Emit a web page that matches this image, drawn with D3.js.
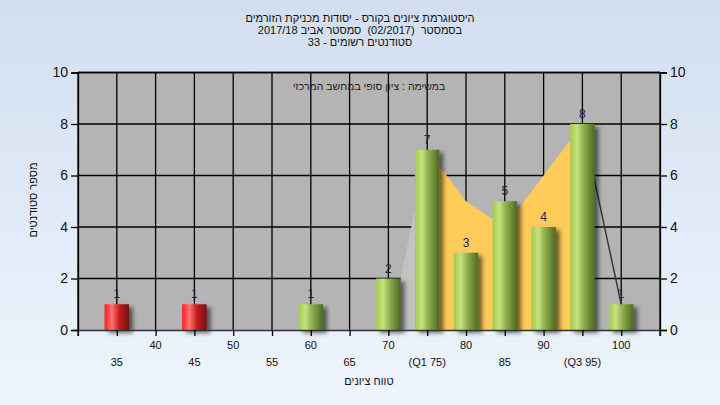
<!DOCTYPE html>
<html><head><meta charset="utf-8">
<script src="https://cdn.jsdelivr.net/npm/d3@7"></script>
<style>
html,body{margin:0;padding:0;}
svg{display:block;font-family:"Liberation Sans",Arial,sans-serif;}
text.pre{white-space:pre;}
</style></head>
<body>
<svg id="c" width="720" height="405"></svg>
<script>
// ---- data ----
const categories = [35,40,45,50,55,60,65,70,75,80,85,90,95,100];
const counts     = [1,0,1,0,0,1,0,2,7,3,5,4,8,1];
const tickLabels = ["35","40","45","50","55","60","65","70","(Q1 75)","80","85","90","(Q3 95)","100"];
const failing    = [35,40,45,50];           // red bars
const iqrCats    = [75,80,85,90,95];        // orange band
const iqrValues  = [7,5,4,6,8];
const lowCats    = [70,75];
const lowValues  = [2,7];
const tailCats   = [95,100];
const tailValues = [8,1];
const yTicks     = [0,2,4,6,8,10];
const titleLines = ["היסטוגרמת ציונים בקורס - יסודות מכניקת הזורמים",
                    "בסמסטר  (02/2017)  סמסטר אביב 2017/18",
                    "סטודנטים רשומים - 33"];
const note   = "במשימה : ציון סופי במחשב המרכזי";
const xTitle = "טווח ציונים";
const yTitle = "מספר סטודנטים";

const svg = d3.select("#c");
const W = 720, H = 405;
const L = 78, R = 660, T = 72.5, B = 330;

const defs = svg.append("defs");
const bg = defs.append("linearGradient").attr("id","bg").attr("x1",0).attr("y1",0).attr("x2",0).attr("y2",1);
bg.append("stop").attr("offset","0%").attr("stop-color","#d2def0");
bg.append("stop").attr("offset","100%").attr("stop-color","#eef5fd");
function barGrad(id, stops){
  const g = defs.append("linearGradient").attr("id",id).attr("x1",0).attr("y1",0).attr("x2",1).attr("y2",0);
  stops.forEach(s=>g.append("stop").attr("offset",s[0]).attr("stop-color",s[1]));
}
barGrad("gGreen",[["0%","#a2cb4a"],["28%","#c6e182"],["55%","#8fae4c"],["100%","#4e6a24"]]);
barGrad("gRed",[["0%","#ff1c1c"],["30%","#ff7373"],["60%","#c41e1e"],["100%","#741010"]]);
const f = defs.append("filter").attr("id","sh").attr("x","-30%").attr("y","-30%").attr("width","180%").attr("height","160%");
f.append("feDropShadow").attr("dx",4).attr("dy",3).attr("stdDeviation",2).attr("flood-color","#000").attr("flood-opacity",0.55);

svg.append("rect").attr("width",W).attr("height",H).attr("fill","url(#bg)");

const x = d3.scalePoint().domain(categories).range([L,R]).padding(1);
const y = d3.scaleLinear().domain([0,10]).range([B,T]);
const step = x.step();
const bw = step*0.63;

// plot background
svg.append("rect").attr("x",L).attr("y",T).attr("width",R-L).attr("height",B-T).attr("fill","#b4b4b4");

// grid
const grid = svg.append("g");
grid.selectAll("line.h").data(yTicks.slice(1)).join("line")
  .attr("x1",L).attr("x2",R).attr("y1",d=>y(d)).attr("y2",d=>y(d))
  .attr("stroke","#000").attr("stroke-width",1.3);
grid.selectAll("line.v").data(categories).join("line")
  .attr("x1",d=>x(d)).attr("x2",d=>x(d)).attr("y1",T).attr("y2",B)
  .attr("stroke","#000").attr("stroke-width",1.3);

// area series
svg.append("path").datum(lowCats.map((c,i)=>[c,lowValues[i]]))
  .attr("d", d3.area().x((d,i)=>x(d[0]) + (i===0? bw/2 : 0)).y0(y(0)).y1(d=>y(d[1])))
  .attr("fill","#c2c2c2");
svg.append("path").datum(iqrCats.map((c,i)=>[c,iqrValues[i]]))
  .attr("d", d3.area().x(d=>x(d[0])).y0(y(0)).y1(d=>y(d[1])))
  .attr("fill","#ffcc5a");
svg.append("path").datum(tailCats.map((c,i)=>[c,tailValues[i]]))
  .attr("d", d3.line().x(d=>x(d[0])).y(d=>y(d[1])))
  .attr("fill","none").attr("stroke","#3a3a3a").attr("stroke-width",1.5);

// bars
const bars = svg.append("g");
categories.forEach((c,i)=>{
  if(!counts[i]) return;
  bars.append("rect")
    .attr("x",x(c)-bw/2).attr("y",y(counts[i])).attr("width",bw).attr("height",y(0)-y(counts[i]))
    .attr("fill", failing.includes(c) ? "url(#gRed)" : "url(#gGreen)")
    .attr("filter","url(#sh)");
  bars.append("text").attr("x",x(c)).attr("y",y(counts[i])-6)
    .attr("text-anchor","middle").attr("font-size",12).attr("fill","#1b2540").text(counts[i]);
});

// border
svg.append("line").attr("x1",L).attr("x2",R).attr("y1",T).attr("y2",T).attr("stroke","#000").attr("stroke-width",1.3);
svg.append("line").attr("x1",L).attr("x2",L).attr("y1",T).attr("y2",B).attr("stroke","#000").attr("stroke-width",1.3);
svg.append("line").attr("x1",R).attr("x2",R).attr("y1",T).attr("y2",B).attr("stroke","#000").attr("stroke-width",1.3);

// axes
const yl = svg.append("g").attr("transform",`translate(${L},0)`)
  .call(d3.axisLeft(y).tickValues(yTicks).tickSize(7).tickPadding(3).tickFormat(d3.format("d")));
const yr = svg.append("g").attr("transform",`translate(${R},0)`)
  .call(d3.axisRight(y).tickValues(yTicks).tickSize(7).tickPadding(3).tickFormat(d3.format("d")));
[yl,yr].forEach(g=>{
  g.select(".domain").attr("stroke","#000").attr("stroke-width",1.3);
  g.selectAll(".tick line").attr("stroke","#000").attr("stroke-width",1.3);
  g.selectAll(".tick text").attr("font-size",14).attr("fill","#111").attr("font-family","Liberation Sans, Arial, sans-serif");
});
const xa = svg.append("g").attr("transform",`translate(0,${B})`)
  .call(d3.axisBottom(x).tickSize(6).tickFormat(""));
xa.select(".domain").attr("stroke","#333").attr("stroke-width",1.3);
xa.selectAll(".tick line").attr("stroke","#000").attr("stroke-width",1.3);
// edge ticks
[L,R].forEach(v=>svg.append("line").attr("x1",v).attr("x2",v).attr("y1",B).attr("y2",B+6).attr("stroke","#000").attr("stroke-width",1.3));

// x tick labels, staggered
svg.append("g").selectAll("text").data(categories).join("text")
  .attr("x",d=>x(d)).attr("y",(d,i)=> i%2===1 ? 349 : 366)
  .attr("text-anchor","middle").attr("font-size",11).attr("fill","#111")
  .attr("direction","ltr")
  .text((d,i)=>tickLabels[i]);

// titles
svg.append("g").selectAll("text").data(titleLines).join("text")
  .attr("class","pre")
  .attr("x",360).attr("y",(d,i)=>22+i*12)
  .attr("text-anchor","middle").attr("direction","rtl").attr("font-size",11).attr("fill","#111")
  .text(d=>d);
svg.append("text").attr("x",(L+R)/2).attr("y",90).attr("text-anchor","middle").attr("direction","rtl")
  .attr("font-size",10.5).attr("fill","#2a1a1a").text(note);
svg.append("text").attr("x",(L+R)/2).attr("y",385).attr("text-anchor","middle").attr("direction","rtl")
  .attr("font-size",11).attr("fill","#111").text(xTitle);
svg.append("text").attr("transform",`translate(37,200) rotate(-90)`)
  .attr("text-anchor","middle").attr("direction","rtl")
  .attr("font-size",11).attr("fill","#111").text(yTitle);
</script>
</body></html>
